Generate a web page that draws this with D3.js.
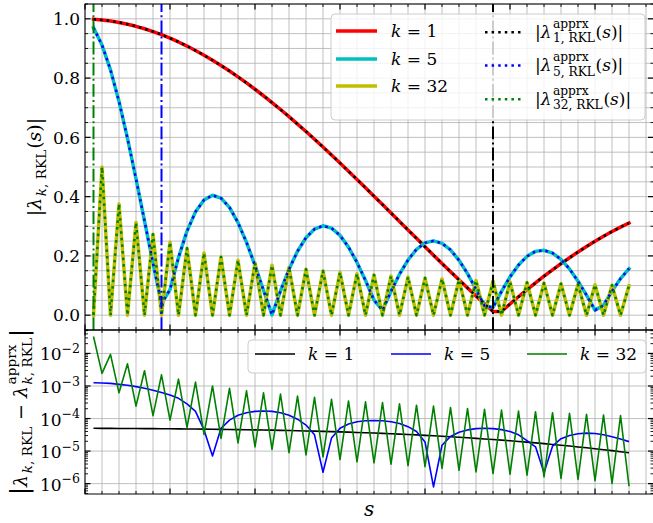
<!DOCTYPE html>
<html>
<head>
<meta charset="utf-8">
<title>RKL amplification factors</title>
<script src="https://cdn.jsdelivr.net/npm/d3@7/dist/d3.min.js"></script>
<style>
  html, body { margin: 0; padding: 0; background: #ffffff; }
  svg { display: block; font-family: "DejaVu Serif", serif; }
  text { fill: #000; }
</style>
</head>
<body>
<svg id="chart" width="653" height="523"></svg>
<script>
// number of stages s
const stages = d3.range(1, 65);

// |lambda_{k,RKL}(s)| for the three modes
const lamK1 = [
  0.9986,0.9962,0.9926,0.9878,0.9818,0.9747,0.9664,0.9570,0.9465,0.9348,
  0.9219,0.9081,0.8930,0.8772,0.8603,0.8426,0.8237,0.8042,0.7837,0.7623,
  0.7404,0.7175,0.6940,0.6698,0.6449,0.6197,0.5937,0.5674,0.5405,0.5133,
  0.4858,0.4581,0.4299,0.4017,0.3733,0.3448,0.3163,0.2877,0.2592,0.2308,
  0.2026,0.1746,0.1468,0.1192,0.0920,0.0651,0.0386,0.0127,0.0127,0.0377,
  0.0622,0.0859,0.1090,0.1314,0.1529,0.1738,0.1939,0.2133,0.2318,0.2495,
  0.2663,0.2821,0.2971,0.3110];
const lamK5 = [
  0.9700,0.9114,0.8278,0.7211,0.5967,0.4604,0.3179,0.1755,0.0388,0.0863,
  0.1949,0.2835,0.3487,0.3889,0.4046,0.3951,0.3636,0.3123,0.2457,0.1679,
  0.0841,0.0008,0.0819,0.1549,0.2158,0.2615,0.2906,0.3016,0.2938,0.2693,
  0.2297,0.1779,0.1170,0.0510,0.0161,0.0807,0.1383,0.1861,0.2222,0.2439,
  0.2508,0.2425,0.2204,0.1852,0.1403,0.0876,0.0312,0.0260,0.0805,0.1292,
  0.1691,0.1985,0.2153,0.2189,0.2096,0.1880,0.1560,0.1146,0.0675,0.0171,
  0.0337,0.0813,0.1234,0.1571];
const lamK32 = [
  0,0.5000,0,0.3750,0,0.3125,0,0.2734,0,0.2461,
  0,0.2256,0,0.2095,0,0.1964,0,0.1855,0,0.1762,
  0,0.1682,0,0.1612,0,0.1550,0,0.1494,0,0.1445,
  0,0.1399,0,0.1358,0,0.1320,0,0.1286,0,0.1254,
  0,0.1224,0,0.1196,0,0.1170,0,0.1146,0,0.1123,
  0,0.1101,0,0.1081,0,0.1061,0,0.1043,0,0.1026,
  0,0.1009,0,0.0993];

// |lambda_{k,RKL} - lambda^{apprx}_{k,RKL}|
const errK1 = [
  5.01e-5,4.99e-5,4.98e-5,4.96e-5,4.94e-5,4.92e-5,4.90e-5,4.88e-5,4.85e-5,4.83e-5,
  4.80e-5,4.78e-5,4.75e-5,4.72e-5,4.68e-5,4.65e-5,4.61e-5,4.57e-5,4.53e-5,4.49e-5,
  4.44e-5,4.39e-5,4.34e-5,4.28e-5,4.22e-5,4.16e-5,4.10e-5,4.03e-5,3.96e-5,3.89e-5,
  3.82e-5,3.74e-5,3.66e-5,3.58e-5,3.49e-5,3.41e-5,3.32e-5,3.23e-5,3.14e-5,3.04e-5,
  2.95e-5,2.85e-5,2.76e-5,2.66e-5,2.56e-5,2.46e-5,2.36e-5,2.27e-5,2.17e-5,2.07e-5,
  1.97e-5,1.88e-5,1.79e-5,1.69e-5,1.60e-5,1.51e-5,1.43e-5,1.34e-5,1.26e-5,1.18e-5,
  1.10e-5,1.03e-5,9.59e-6,8.91e-6];
const errK5 = [
  1.26e-3,1.23e-3,1.20e-3,1.12e-3,1.05e-3,9.55e-4,8.51e-4,7.41e-4,6.31e-4,5.25e-4,
  4.17e-4,2.82e-4,1.66e-4,4.47e-5,7.08e-6,5.01e-5,8.91e-5,1.26e-4,1.51e-4,1.66e-4,
  1.70e-4,1.66e-4,1.51e-4,1.26e-4,9.55e-5,6.31e-5,3.16e-5,2.24e-6,2.51e-5,5.01e-5,
  6.76e-5,7.94e-5,8.51e-5,8.71e-5,8.51e-5,7.94e-5,7.08e-5,5.62e-5,3.98e-5,1.91e-5,
  7.94e-7,1.51e-5,2.82e-5,3.80e-5,4.47e-5,4.90e-5,5.01e-5,4.90e-5,4.57e-5,3.98e-5,
  3.16e-5,2.09e-5,1.35e-5,2.14e-6,1.41e-5,2.40e-5,3.02e-5,3.39e-5,3.55e-5,3.47e-5,
  3.16e-5,2.75e-5,2.34e-5,1.95e-5];
const errK32 = [
  3.31e-2,2.45e-3,9.33e-3,6.17e-4,4.79e-3,2.40e-4,2.95e-3,1.23e-4,2.19e-3,8.91e-5,
  1.62e-3,5.37e-5,1.32e-3,3.24e-5,1.00e-3,2.45e-5,8.51e-4,1.78e-5,7.08e-4,1.35e-5,
  6.17e-4,1.12e-5,5.62e-4,8.91e-6,4.90e-4,7.59e-6,4.47e-4,6.61e-6,3.89e-4,5.50e-6,
  3.47e-4,4.68e-6,3.24e-4,4.37e-6,3.09e-4,3.98e-6,2.82e-4,3.55e-6,2.57e-4,3.31e-6,
  2.40e-4,2.95e-6,2.19e-4,2.57e-6,2.04e-4,2.29e-6,1.91e-4,2.04e-6,1.82e-4,1.95e-6,
  1.70e-4,1.82e-6,1.62e-4,1.62e-6,1.51e-4,1.45e-6,1.45e-4,1.35e-6,1.35e-4,1.23e-6,
  1.29e-4,1.02e-6,1.23e-4,8.32e-7];

// modes and the stage counts marked with vertical lines
const modes = [1, 5, 32];
const markerStages = [1, 9, 48];

// ticks
const sMajorTicks = [0, 10, 20, 30, 40, 50, 60];
const sMinorTicks = d3.range(0, 67, 2);
const lamMajorTicks = [0, 0.2, 0.4, 0.6, 0.8, 1.0];
const lamTickLabels = ['0.0', '0.2', '0.4', '0.6', '0.8', '1.0'];
const lamMinorTicks = d3.range(-1, 22).map(i => +(i * 0.05).toFixed(2));
const errDecades = [1e-6, 1e-5, 1e-4, 1e-3, 1e-2];
const errExpLabels = ['\u22126', '\u22125', '\u22124', '\u22123', '\u22122'];

// axis limits
const sDomain = [0, 66.88];
const lamDomain = [-0.05, 1.05];
const errDomain = [4.8e-7, 5.25e-2];

// ---------------------------------------------------------------
const svg = d3.select('#chart');
const left = 85, right = 653.5;
const top1 = 4, bot1 = 330, top2 = 330, bot2 = 494;
const gridColor = '#b0b0b0';

const x = d3.scaleLinear().domain(sDomain).range([left, right]);
const yL = d3.scaleLinear().domain(lamDomain).range([bot1, top1]);
const yE = d3.scaleLog().domain(errDomain).range([bot2, top2]);

const defs = svg.append('defs');
defs.append('clipPath').attr('id', 'clipTop').append('rect')
  .attr('x', left).attr('y', top1).attr('width', right - left).attr('height', bot1 - top1);
defs.append('clipPath').attr('id', 'clipBot').append('rect')
  .attr('x', left).attr('y', top2).attr('width', right - left).attr('height', bot2 - top2);

// math-style text: runs laid out left to right, baseline at y=0
function mathText(parent, runs, fs) {
  const g = parent.append('g');
  let cx = 0;
  function put(r, size, dy, x0) {
    const t = g.append('text')
      .attr('x', x0).attr('y', dy)
      .attr('font-size', size)
      .attr('font-style', r.it ? 'italic' : 'normal')
      .text(r.t);
    return t.node().getComputedTextLength();
  }
  function putSeq(seq, size, dy, x0) {
    let xx = x0;
    seq.forEach(p => { xx += put(p, size, dy, xx); });
    return xx - x0;
  }
  runs.forEach(r => {
    if (r.sup || r.sub) {
      cx += 0.08 * fs;
      const ws = r.sup ? putSeq(r.sup, fs * 0.72, -0.58 * fs, cx) : 0;
      const wb = r.sub ? putSeq(r.sub, fs * 0.72, 0.27 * fs, cx) : 0;
      cx += Math.max(ws, wb) + 0.04 * fs;
    } else {
      cx += put(r, fs * (r.scale || 1), r.dy || 0, cx);
    }
  });
  return { g, width: cx };
}

// ---------------------------------------------------------------
// upper panel: |lambda_k(s)|
const panelTop = svg.append('g');
const gridT = panelTop.append('g').attr('stroke', gridColor).attr('stroke-width', 0.8);
gridT.selectAll('line.v').data(sMinorTicks).join('line').attr('class', 'v')
  .attr('x1', d => x(d)).attr('x2', d => x(d)).attr('y1', top1).attr('y2', bot1);
gridT.selectAll('line.h').data(lamMinorTicks).join('line').attr('class', 'h')
  .attr('x1', left).attr('x2', right).attr('y1', d => yL(d)).attr('y2', d => yL(d));

const lamLine = d3.line().x((d, i) => x(stages[i])).y(d => yL(d));
const lamSeries = [lamK1, lamK5, lamK32];
const solidColors = ['#ff0000', '#00bfbf', '#bfbf00'];
const dottedColors = ['#000000', '#0000ff', '#008000'];

const plotT = panelTop.append('g').attr('clip-path', 'url(#clipTop)');
lamSeries.forEach((vals, i) => {
  plotT.append('path').attr('d', lamLine(vals))
    .attr('fill', 'none').attr('stroke', solidColors[i]).attr('stroke-width', 3.5)
    .attr('stroke-linejoin', 'round').attr('stroke-linecap', 'square');
});
lamSeries.forEach((vals, i) => {
  plotT.append('path').attr('d', lamLine(vals))
    .attr('fill', 'none').attr('stroke', dottedColors[i]).attr('stroke-width', 2.5)
    .attr('stroke-dasharray', '2.5,4.1').attr('stroke-linejoin', 'round');
});

// vertical dash-dot markers (green at s=1, blue at s=9, black at s=48)
const markerColors = ['#008000', '#0000ff', '#000000'];
plotT.selectAll('line.mark').data(markerStages).join('line').attr('class', 'mark')
  .attr('x1', d => x(d)).attr('x2', d => x(d)).attr('y1', bot1).attr('y2', top1)
  .attr('stroke', (d, i) => markerColors[i]).attr('stroke-width', 2)
  .attr('stroke-dasharray', '12.8,3.2,2,3.2');

// ---------------------------------------------------------------
// lower panel: approximation error (log scale)
const panelBot = svg.append('g');
const gridB = panelBot.append('g').attr('stroke', gridColor).attr('stroke-width', 0.8);
gridB.selectAll('line.v').data(sMinorTicks).join('line').attr('class', 'v')
  .attr('x1', d => x(d)).attr('x2', d => x(d)).attr('y1', top2).attr('y2', bot2);
gridB.selectAll('line.h').data(errDecades).join('line').attr('class', 'h')
  .attr('x1', left).attr('x2', right).attr('y1', d => yE(d)).attr('y2', d => yE(d));

const errLine = d3.line().x((d, i) => x(stages[i])).y(d => yE(d));
const errSeries = [errK1, errK5, errK32];
const errColors = ['#000000', '#0000ff', '#008000'];
const plotB = panelBot.append('g').attr('clip-path', 'url(#clipBot)');
errSeries.forEach((vals, i) => {
  plotB.append('path').attr('d', errLine(vals))
    .attr('fill', 'none').attr('stroke', errColors[i]).attr('stroke-width', 1.6)
    .attr('stroke-linejoin', 'round');
});

// ---------------------------------------------------------------
// spines and inward ticks
const axes = svg.append('g').attr('stroke', '#000');
function xTicks(vals, y0, dir, len, w) {
  axes.append('g').selectAll('line').data(vals).join('line')
    .attr('x1', d => x(d)).attr('x2', d => x(d))
    .attr('y1', y0).attr('y2', y0 + dir * len).attr('stroke-width', w);
}
function yTicks(scale, vals, x0, dir, len, w) {
  axes.append('g').selectAll('line').data(vals).join('line')
    .attr('y1', d => scale(d)).attr('y2', d => scale(d))
    .attr('x1', x0).attr('x2', x0 + dir * len).attr('stroke-width', w);
}
const sMinorOnly = sMinorTicks.filter(v => !sMajorTicks.includes(v));
[[bot1, -1], [top1, 1], [top2, 1], [bot2, -1]].forEach(([y0, dir]) => {
  xTicks(sMajorTicks, y0, dir, 5.5, 1.2);
  xTicks(sMinorOnly, y0, dir, 3, 0.9);
});
const lamMinorOnly = lamMinorTicks.filter(v => !lamMajorTicks.some(m => Math.abs(m - v) < 1e-9));
[[left, 1], [right, -1]].forEach(([x0, dir]) => {
  yTicks(yL, lamMajorTicks, x0, dir, 5.5, 1.2);
  yTicks(yL, lamMinorOnly, x0, dir, 3, 0.9);
});
const errMinor = [];
[-7, -6, -5, -4, -3, -2, -1].forEach(e => {
  for (let m = 2; m <= 9; m++) {
    const v = m * Math.pow(10, e);
    if (v > errDomain[0] && v < errDomain[1]) errMinor.push(v);
  }
});
[[left, 1], [right, -1]].forEach(([x0, dir]) => {
  yTicks(yE, errDecades, x0, dir, 5.5, 1.2);
  yTicks(yE, errMinor, x0, dir, 3, 0.9);
});
axes.append('rect').attr('x', left).attr('y', top1).attr('width', right - left)
  .attr('height', bot1 - top1).attr('fill', 'none').attr('stroke-width', 1);
axes.append('rect').attr('x', left).attr('y', top2).attr('width', right - left)
  .attr('height', bot2 - top2).attr('fill', 'none').attr('stroke-width', 1);

// tick labels
const labels = svg.append('g');
labels.selectAll('text.lam').data(lamMajorTicks).join('text').attr('class', 'lam')
  .attr('x', left - 5).attr('y', d => yL(d) + 6.3)
  .attr('text-anchor', 'end').attr('font-size', 17)
  .text((d, i) => lamTickLabels[i]);
const errLab = labels.selectAll('text.err').data(errDecades).join('text').attr('class', 'err')
  .attr('x', left - 5).attr('y', d => yE(d) + 7)
  .attr('text-anchor', 'end').attr('font-size', 17);
errLab.append('tspan').text('10');
errLab.append('tspan').attr('font-size', 12.5).attr('dy', -7.3).text((d, i) => errExpLabels[i]);

// axis labels
const fsLab = 19;
const yLabTop = mathText(labels, [
  { t: '|' }, { t: '\u03bb', it: 1 },
  { sub: [{ t: 'k', it: 1 }, { t: ',\u00a0RKL' }] },
  { t: '(' }, { t: 's', it: 1 }, { t: ')' }, { t: '|' }
], fsLab);
yLabTop.g.attr('transform', `translate(41,${(top1 + bot1) / 2}) rotate(-90) translate(${-yLabTop.width / 2},0)`);

const yLabBot = mathText(labels, [
  { t: '|', scale: 1.25 }, { t: '\u03bb', it: 1 },
  { sub: [{ t: 'k', it: 1 }, { t: ',\u00a0RKL' }] },
  { t: '\u00a0\u2212\u00a0' }, { t: '\u03bb', it: 1 },
  { sup: [{ t: 'apprx' }], sub: [{ t: 'k', it: 1 }, { t: ',\u00a0RKL' }] },
  { t: '|', scale: 1.25 }
], fsLab);
yLabBot.g.attr('transform', `translate(27,${(top2 + bot2) / 2}) rotate(-90) translate(${-yLabBot.width / 2},0)`);

labels.append('text').attr('x', (left + right) / 2).attr('y', 516)
  .attr('text-anchor', 'middle').attr('font-size', 20).attr('font-style', 'italic').text('s');

// ---------------------------------------------------------------
// legends
const fsLeg = 17;
const legT = svg.append('g');
legT.append('rect').attr('x', 331).attr('y', 14).attr('width', 314).attr('height', 106)
  .attr('rx', 4).attr('fill', '#ffffff').attr('fill-opacity', 0.8)
  .attr('stroke', '#cccccc').attr('stroke-width', 1);
const rowsSolid = [31, 59, 86];
const rowsDotted = [32.3, 65.5, 99.3];
modes.forEach((k, i) => {
  legT.append('line').attr('x1', 336).attr('x2', 377).attr('y1', rowsSolid[i]).attr('y2', rowsSolid[i])
    .attr('stroke', solidColors[i]).attr('stroke-width', 3.5);
  const lab = mathText(legT, [{ t: 'k', it: 1 }, { t: '\u00a0=\u00a0' }, { t: String(k) }], fsLeg);
  lab.g.attr('transform', `translate(391,${rowsSolid[i] + 6})`);

  legT.append('line').attr('x1', 485).attr('x2', 524).attr('y1', rowsDotted[i]).attr('y2', rowsDotted[i])
    .attr('stroke', dottedColors[i]).attr('stroke-width', 2.5).attr('stroke-dasharray', '2.5,4.1');
  const lab2 = mathText(legT, [
    { t: '|' }, { t: '\u03bb', it: 1 },
    { sup: [{ t: 'apprx' }], sub: [{ t: k + ',\u00a0RKL' }] },
    { t: '(' }, { t: 's', it: 1 }, { t: ')' }, { t: '|' }
  ], fsLeg);
  lab2.g.attr('transform', `translate(535,${rowsDotted[i] + 5.5})`);
});

const legB = svg.append('g');
legB.append('rect').attr('x', 248).attr('y', 340).attr('width', 398).attr('height', 33)
  .attr('rx', 4).attr('fill', '#ffffff').attr('fill-opacity', 0.8)
  .attr('stroke', '#cccccc').attr('stroke-width', 1);
const legBX = [255, 391, 527];
modes.forEach((k, i) => {
  legB.append('line').attr('x1', legBX[i]).attr('x2', legBX[i] + 40).attr('y1', 354).attr('y2', 354)
    .attr('stroke', errColors[i]).attr('stroke-width', 1.6);
  const lab = mathText(legB, [{ t: 'k', it: 1 }, { t: '\u00a0=\u00a0' }, { t: String(k) }], fsLeg);
  lab.g.attr('transform', `translate(${legBX[i] + 53},360)`);
});
</script>
</body>
</html>
